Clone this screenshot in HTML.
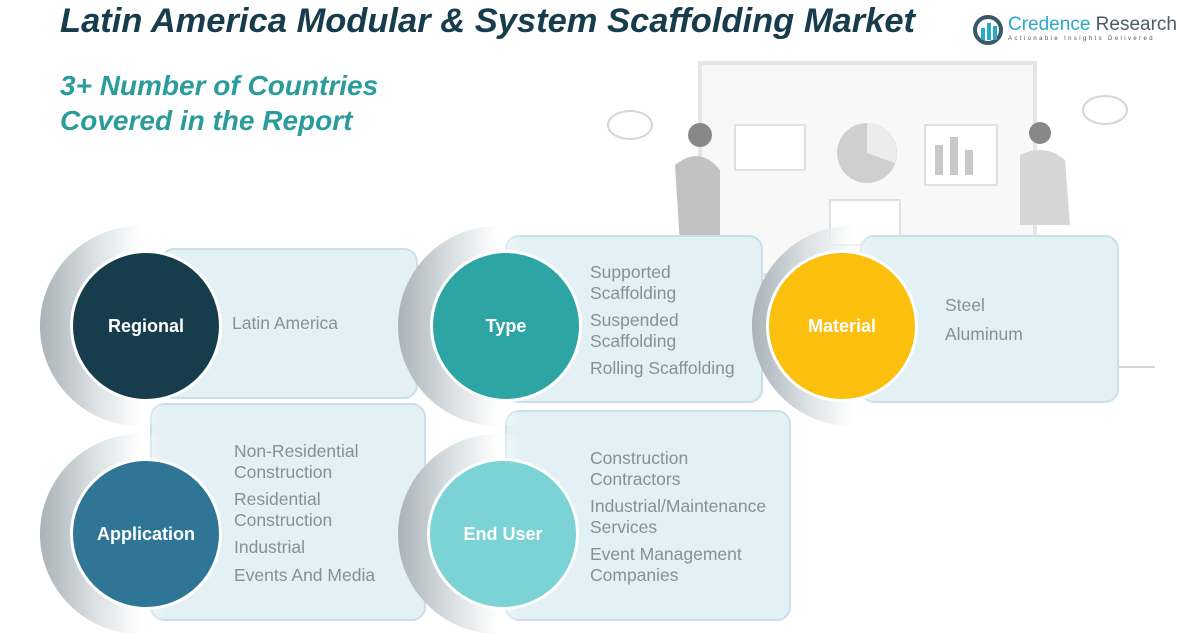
<!DOCTYPE html>
<html><head><meta charset="utf-8"><style>
body{margin:0;width:1196px;height:642px;background:#fff;position:relative;overflow:hidden;font-family:"Liberation Sans",sans-serif}
.a{position:absolute}
.box{position:absolute;background:#e3f0f6;border:2px solid #c9e0ea;border-radius:14px;box-sizing:border-box}
.ring{position:absolute;width:200px;height:200px;border-radius:50%;background:linear-gradient(90deg,#a9b3b9 0%,#dfe4e7 30%,rgba(255,255,255,0.6) 50%,rgba(255,255,255,0) 62%)}
.c{position:absolute;width:152px;height:152px;border-radius:50%;border:3px solid #fff;box-sizing:border-box;color:#fff;font-weight:bold;font-size:18px;display:flex;align-items:center;justify-content:center}
.t{position:absolute;color:#8a8f93;font-size:17.5px;line-height:20.5px}
.t div{margin-bottom:7px}
</style></head><body>
<div class="a" style="left:60px;top:2px;font-size:34.5px;font-weight:bold;font-style:italic;color:#173d4c">Latin America Modular &amp; System Scaffolding Market</div>
<div class="a" style="left:60px;top:68px;font-size:28px;font-weight:bold;font-style:italic;color:#2a9c9c;line-height:35px">3+ Number of Countries<br>Covered in the Report</div>
<svg class="a" style="left:972px;top:14px" width="34" height="32"><circle cx="16" cy="16" r="13" fill="none" stroke="#3b5866" stroke-width="4"/><rect x="9" y="14" width="4" height="12" fill="#29a9c9"/><rect x="15" y="9" width="4" height="17" fill="#29a9c9"/><rect x="21" y="12" width="4" height="14" fill="#29a9c9"/></svg>
<div class="a" style="left:1008px;top:14px;font-size:19px;color:#29a9c9">Credence <span style="color:#4b5c66">Research</span></div>
<div class="a" style="left:1008px;top:36px;font-size:6px;letter-spacing:2.4px;color:#555">Actionable Insights Delivered</div>
<svg class="a" style="left:600px;top:55px" width="560" height="320">
<rect x="100" y="8" width="335" height="212" fill="#f8f8f8" stroke="#e6e6e6" stroke-width="4"/>
<circle cx="267" cy="98" r="30" fill="#cfcfcf"/><path d="M267 98 L267 68 A30 30 0 0 1 295 108Z" fill="#ececec"/>
<rect x="325" y="70" width="72" height="60" fill="#fff" stroke="#e0e0e0" stroke-width="2"/>
<rect x="335" y="90" width="8" height="30" fill="#c8c8c8"/><rect x="350" y="82" width="8" height="38" fill="#c8c8c8"/><rect x="365" y="95" width="8" height="25" fill="#c8c8c8"/>
<rect x="135" y="70" width="70" height="45" fill="#fff" stroke="#e0e0e0" stroke-width="2"/>
<rect x="230" y="145" width="70" height="45" fill="#fff" stroke="#e0e0e0" stroke-width="2"/>
<circle cx="100" cy="80" r="12" fill="#888"/><path d="M75 110 Q100 90 120 115 L120 190 L80 190Z" fill="#c2c2c2"/>
<circle cx="440" cy="78" r="11" fill="#888"/><path d="M420 100 Q445 88 465 105 L470 170 L420 170Z" fill="#d6d6d6"/>
<ellipse cx="30" cy="70" rx="22" ry="14" fill="#fff" stroke="#d6d6d6" stroke-width="2"/>
<ellipse cx="505" cy="55" rx="22" ry="14" fill="#fff" stroke="#d6d6d6" stroke-width="2"/>
<line x1="20" y1="312" x2="555" y2="312" stroke="#d6d6d6" stroke-width="2"/>
</svg>
<div class="box" style="left:160px;top:248px;width:258px;height:151px"></div>
<div class="box" style="left:505px;top:235px;width:258px;height:168px"></div>
<div class="box" style="left:860px;top:235px;width:259px;height:168px"></div>
<div class="box" style="left:150px;top:403px;width:276px;height:218px"></div>
<div class="box" style="left:505px;top:410px;width:286px;height:211px"></div>
<div class="ring" style="left:40px;top:226px"></div>
<div class="ring" style="left:398px;top:226px"></div>
<div class="ring" style="left:752px;top:226px"></div>
<div class="ring" style="left:40px;top:434px"></div>
<div class="ring" style="left:398px;top:434px"></div>
<div class="c" style="left:70px;top:250px;background:#173d4c">Regional</div>
<div class="c" style="left:430px;top:250px;background:#2ea5a5">Type</div>
<div class="c" style="left:766px;top:250px;background:#fbbf0e">Material</div>
<div class="c" style="left:70px;top:458px;background:#2f7595">Application</div>
<div class="c" style="left:427px;top:458px;background:#7bd3d5">End User</div>
<div class="t" style="left:232px;top:313px">Latin America</div>
<div class="t" style="left:590px;top:262px"><div>Supported<br>Scaffolding</div><div>Suspended<br>Scaffolding</div><div>Rolling Scaffolding</div></div>
<div class="t" style="left:945px;top:295px"><div style="margin-bottom:8px">Steel</div><div>Aluminum</div></div>
<div class="t" style="left:234px;top:441px"><div>Non-Residential<br>Construction</div><div>Residential<br>Construction</div><div>Industrial</div><div>Events And Media</div></div>
<div class="t" style="left:590px;top:448px"><div>Construction<br>Contractors</div><div>Industrial/Maintenance<br>Services</div><div>Event Management<br>Companies</div></div>
</body></html>
